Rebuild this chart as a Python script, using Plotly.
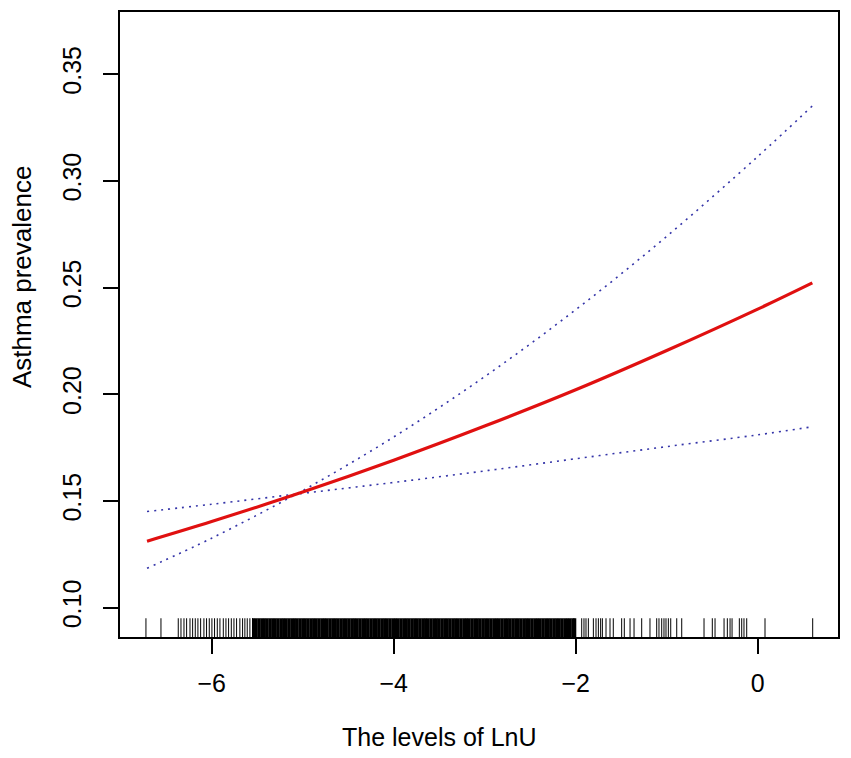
import plotly.graph_objects as go

# ---- data ----
x_fit = [-6.71, -6.0, -5.0, -4.0, -3.0, -2.0, -1.0, 0.0, 0.6]
y_fit = [0.1312, 0.1404, 0.1542, 0.1691, 0.1851, 0.2021, 0.2205, 0.2399, 0.2522]
y_upper = [0.1185, 0.1326, 0.1549, 0.1800, 0.2083, 0.2396, 0.2740, 0.3114, 0.3351]
y_lower = [0.1451, 0.1485, 0.1536, 0.1587, 0.1641, 0.1698, 0.1755, 0.1810, 0.1848]

rug_sparse = [
    -6.722, -6.557,
    -6.367, -6.337, -6.304, -6.275, -6.238, -6.209, -6.180, -6.151, -6.121,
    -6.085, -6.056, -6.026, -5.997, -5.968, -5.938, -5.909, -5.872, -5.843,
    -5.814, -5.784, -5.755, -5.726, -5.690, -5.660, -5.635, -5.609, -5.580,
    -5.551,
    -1.934, -1.909, -1.887, -1.861, -1.806, -1.777, -1.751, -1.726, -1.707,
    -1.667, -1.623, -1.587, -1.495, -1.466, -1.403, -1.359, -1.275, -1.184,
    -1.110, -1.085, -1.055, -1.030, -1.008, -0.982, -0.956, -0.890, -0.835,
    -0.590, -0.499, -0.469, -0.370, -0.334, -0.304, -0.282, -0.202, -0.176,
    -0.151, -0.121, 0.080, 0.604,
]
rug_dense = [
    -5.54, -5.51, -5.48, -5.45, -5.42, -5.39, -5.36, -5.33, -5.30, -5.27,
    -5.24, -5.21, -5.18, -5.15, -5.12, -5.09, -5.06, -5.03, -5.00, -4.97,
    -4.94, -4.91, -4.88, -4.85, -4.82, -4.79, -4.76, -4.73, -4.70, -4.67,
    -4.64, -4.61, -4.58, -4.55, -4.52, -4.49, -4.46, -4.43, -4.40, -4.37,
    -4.34, -4.31, -4.28, -4.25, -4.22, -4.19, -4.16, -4.13, -4.10, -4.07,
    -4.04, -4.01, -3.98, -3.95, -3.92, -3.89, -3.86, -3.83, -3.80, -3.77,
    -3.74, -3.71, -3.68, -3.65, -3.62, -3.59, -3.56, -3.53, -3.50, -3.47,
    -3.44, -3.41, -3.38, -3.35, -3.32, -3.29, -3.26, -3.23, -3.20, -3.17,
    -3.14, -3.11, -3.08, -3.05, -3.02, -2.99, -2.96, -2.93, -2.90, -2.87,
    -2.84, -2.81, -2.78, -2.75, -2.72, -2.69, -2.66, -2.63, -2.60, -2.57,
    -2.54, -2.51, -2.48, -2.45, -2.42, -2.39, -2.36, -2.33, -2.30, -2.27,
    -2.24, -2.21, -2.18, -2.15, -2.12, -2.09, -2.06, -2.03, -2.01,
]

x_title = "The levels of LnU"
y_title = "Asthma prevalence"

X_RANGE = [-7.007, 0.882]
Y_RANGE = [0.0863, 0.3791]
RUG_FRAC = 0.03

rug_y0 = Y_RANGE[0]
rug_y1 = Y_RANGE[0] + RUG_FRAC * (Y_RANGE[1] - Y_RANGE[0])


def rug_xy(vals):
    xs, ys = [], []
    for v in vals:
        xs += [v, v, None]
        ys += [rug_y0, rug_y1, None]
    return xs, ys


fig = go.Figure()

rx, ry = rug_xy(rug_dense)
fig.add_trace(go.Scatter(x=rx, y=ry, mode="lines", line=dict(color="black", width=3),
                         hoverinfo="skip", showlegend=False))
rx, ry = rug_xy(rug_sparse)
fig.add_trace(go.Scatter(x=rx, y=ry, mode="lines", line=dict(color="black", width=1),
                         hoverinfo="skip", showlegend=False))

fig.add_trace(go.Scatter(x=x_fit, y=y_upper, mode="lines", line_shape="spline",
                         line=dict(color="#3434a8", width=1.6, dash="2px,5px"),
                         showlegend=False))
fig.add_trace(go.Scatter(x=x_fit, y=y_lower, mode="lines", line_shape="spline",
                         line=dict(color="#3434a8", width=1.6, dash="2px,5px"),
                         showlegend=False))
fig.add_trace(go.Scatter(x=x_fit, y=y_fit, mode="lines", line_shape="spline",
                         line=dict(color="#e01010", width=3.2),
                         showlegend=False))

axis_common = dict(
    showgrid=False, zeroline=False, showline=True, mirror=True,
    linecolor="black", linewidth=1.6, ticks="outside", ticklen=15,
    tickwidth=1.6, tickcolor="black",
    tickfont=dict(family="Liberation Sans", size=25, color="black"),
)

# page body has an 8px margin; compensate so the plot box lands where the reference has it
fig.update_layout(
    width=843, height=750,
    margin=dict(l=112, r=13, t=2, b=121),
    paper_bgcolor="white", plot_bgcolor="white",
    font=dict(family="Liberation Sans", color="black"),
    xaxis=dict(range=X_RANGE, tick0=0, dtick=2, ticklabelstandoff=8, **axis_common),
    yaxis=dict(range=Y_RANGE, tick0=0.10, dtick=0.05, tickformat=".2f",
               tickangle=-90, ticklabelstandoff=12, **axis_common),
    annotations=[
        dict(text=x_title, xref="paper", yref="paper", x=0.4443, y=-0.1595,
             xanchor="center", yanchor="middle", showarrow=False,
             font=dict(family="Liberation Sans", size=25, color="black")),
        dict(text=y_title, xref="paper", yref="paper", x=-0.1365, y=0.5774,
             xanchor="center", yanchor="middle", showarrow=False, textangle=-90,
             font=dict(family="Liberation Sans", size=26, color="black")),
    ],
)

fig.write_html("out.html")
